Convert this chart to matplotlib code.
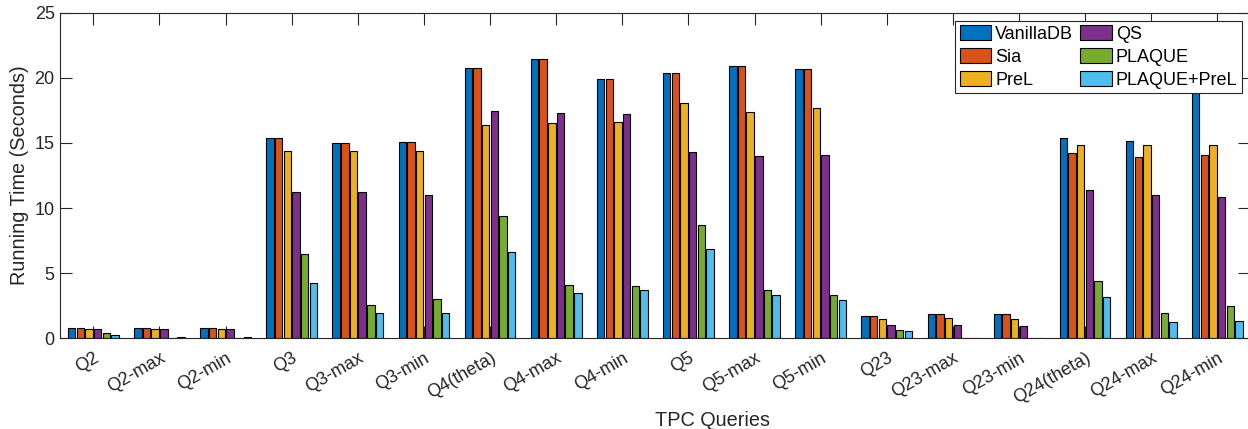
import numpy as np
import matplotlib
matplotlib.use("Agg")
import matplotlib.pyplot as plt
from matplotlib.patches import Patch

categories = ["Q2", "Q2-max", "Q2-min", "Q3", "Q3-max", "Q3-min", "Q4(theta)", "Q4-max",
              "Q4-min", "Q5", "Q5-max", "Q5-min", "Q23", "Q23-max", "Q23-min",
              "Q24(theta)", "Q24-max", "Q24-min"]
series_names = ["VanillaDB", "Sia", "PreL", "QS", "PLAQUE", "PLAQUE+PreL"]
vanilladb = [0.82, 0.82, 0.82, 15.4, 14.96, 15.04, 20.77, 21.41, 19.92, 20.36, 20.92, 20.64,
             1.71, 1.89, 1.87, 15.4, 15.12, 20.5]
sia = [0.82, 0.82, 0.82, 15.4, 14.96, 15.04, 20.77, 21.41, 19.92, 20.36, 20.92, 20.64,
       1.71, 1.89, 1.87, 14.19, 13.94, 14.07]
prel = [0.72, 0.72, 0.72, 14.4, 14.4, 14.37, 16.34, 16.55, 16.62, 18.03, 17.34, 17.7,
        1.48, 1.53, 1.48, 14.83, 14.83, 14.83]
qs = [0.72, 0.72, 0.72, 11.25, 11.2, 10.97, 17.44, 17.29, 17.21, 14.3, 13.99, 14.04,
      1.02, 1.02, 0.97, 11.38, 11.02, 10.82]
plaque = [0.38, 0.02, 0.02, 6.47, 2.56, 3.02, 9.39, 4.07, 3.99, 8.7, 3.68, 3.35,
          0.64, 0.02, 0.02, 4.4, 1.92, 2.46]
plaque_prel = [0.23, 0.08, 0.08, 4.27, 1.92, 1.97, 6.62, 3.5, 3.71, 6.85, 3.3, 2.94,
               0.56, 0.05, 0.05, 3.17, 1.28, 1.33]
yticks = [0, 5, 10, 15, 20, 25]

colors = ["#0072BD", "#D95319", "#EDB120", "#7E2F8E", "#77AC30", "#4DBEEE"]
data = [vanilladb, sia, prel, qs, plaque, plaque_prel]

plt.rcParams['font.family'] = ['Liberation Sans', 'DejaVu Sans']
axcol = "#262626"

fig = plt.figure(figsize=(12.48, 4.29), dpi=100)
W, H = 1248, 429
ax = fig.add_axes([60.3 / W, 1 - 338.3 / H, (1250.4 - 60.3) / W, (338.3 - 12.7) / H])

x = np.arange(1, len(categories) + 1)
step = 0.131
bw = 0.112
for i, (vals, c) in enumerate(zip(data, colors)):
    ax.bar(x + (i - 2.5) * step, vals, width=bw, color=c, edgecolor="black",
           linewidth=0.8, zorder=2)

ax.set_xlim(0.5, len(categories) + 0.5)
ax.set_ylim(0, 25)
ax.set_yticks(yticks)
ax.set_xticks(x)
ax.set_xticklabels(categories, rotation=30, ha="right", va="top",
                   rotation_mode="anchor", fontsize=13, color=axcol)
for lab in ax.get_yticklabels():
    lab.set_fontsize(13)
    lab.set_color(axcol)
ax.tick_params(axis="both", direction="in", length=8.5, width=0.8, color=axcol,
               top=True, right=True)
ax.tick_params(axis="x", pad=8)
ax.tick_params(axis="y", pad=4)
for s in ax.spines.values():
    s.set_color(axcol)
    s.set_linewidth(0.8)

ax.set_ylabel("Running Time (Seconds)", fontsize=14.3, color=axcol)
ax.yaxis.set_label_coords(-(60.3 - 20) / (1250.4 - 60.3), 0.5)
ax.yaxis.label.set_va("center")
ax.set_xlabel("TPC Queries", fontsize=14.3, color=axcol)
ax.xaxis.set_label_coords((712.5 - 60.3) / (1250.4 - 60.3), -(420 - 338.3) / (338.3 - 12.7))
ax.xaxis.label.set_va("center")

handles = [Patch(facecolor=c, edgecolor="black", linewidth=0.8) for c in colors]
leg = fig.legend(handles, series_names, ncol=2, loc="upper right",
                 bbox_to_anchor=(1241.7 / W, 1 - 20.7 / H), fontsize=13,
                 frameon=True, fancybox=False, framealpha=1.0,
                 handlelength=1.76, handleheight=0.87,
                 handletextpad=0.2, columnspacing=0.4, labelspacing=0.3,
                 borderpad=0.25, borderaxespad=0)
leg.get_frame().set_edgecolor(axcol)
leg.get_frame().set_linewidth(0.8)
leg.set_zorder(10)

fig.savefig("out.png", dpi=100)
